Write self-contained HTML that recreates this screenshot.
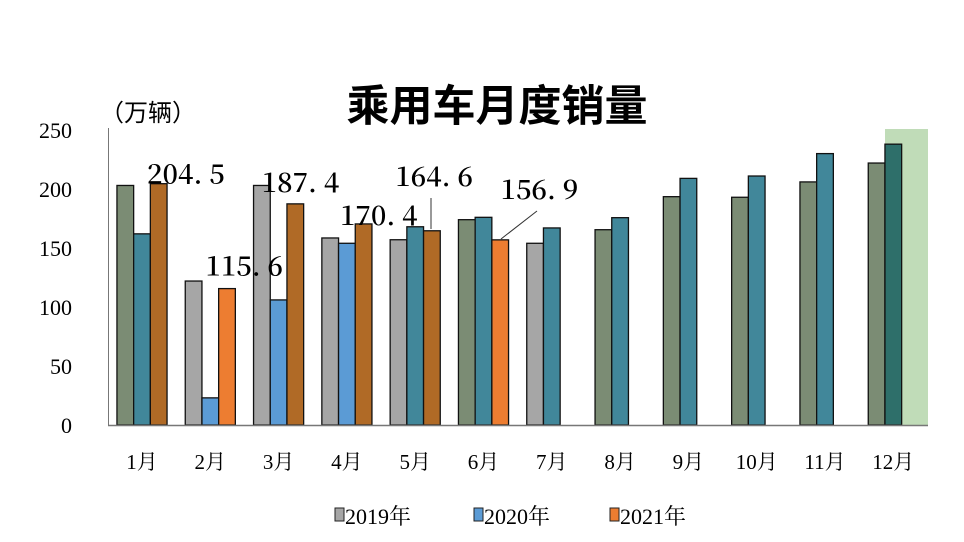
<!DOCTYPE html>
<html><head><meta charset="utf-8">
<style>
html,body{margin:0;padding:0;background:#fff;}
svg{display:block;}
text{font-family:"Liberation Serif","Noto Serif CJK SC",serif;fill:#000;}
</style></head>
<body>
<svg id="chart" width="964" height="542" viewBox="0 0 964 542" xmlns="http://www.w3.org/2000/svg">
<rect x="885" y="129" width="43" height="296" fill="#c0dcb8"/>
<text x="497" y="121" text-anchor="middle" font-size="43" style="font-family:'Noto Sans CJK SC',sans-serif;font-weight:600">乘用车月度销量</text>
<text x="100" y="121" font-size="24" style="font-family:'Noto Sans CJK SC',sans-serif">（万辆）</text>
<g id="yticks"></g>
<g id="bars"></g>
<line x1="108.5" y1="128" x2="108.5" y2="425" stroke="#777" stroke-width="1"/>
<line x1="108" y1="425.5" x2="928" y2="425.5" stroke="#777" stroke-width="1.5"/>
<g id="xlabels"></g>
<g id="vlabels"></g>
<line x1="431" y1="198" x2="431" y2="229" stroke="#333" stroke-width="1"/>
<line x1="537" y1="211" x2="501" y2="239" stroke="#333" stroke-width="1"/>
<g>
<rect x="335" y="508" width="9" height="13" fill="#a6a6a6" stroke="#222"/>
<text x="345" y="524" font-size="22">2019年</text>
<rect x="474" y="508" width="9" height="13" fill="#5b9bd5" stroke="#222"/>
<text x="484" y="524" font-size="22">2020年</text>
<rect x="610" y="508" width="9" height="13" fill="#ed7d31" stroke="#222"/>
<text x="620" y="524" font-size="22">2021年</text>
</g>
</svg>
<script>
const categories = ["1月","2月","3月","4月","5月","6月","7月","8月","9月","10月","11月","12月"];
const sales2019 = [203,122,203,158.5,157,174,154,165.5,193.5,193,206,222];
const sales2020 = [162,23,106,154,168,176,167,175.7,209,211,230,238];
const sales2021 = [204.5,115.6,187.4,170.4,164.6,156.9,null,null,null,null,null,null];
const colors2019 = ["#7b8c74","#a6a6a6","#a6a6a6","#a6a6a6","#a6a6a6","#7b8c74","#a6a6a6","#7b8c74","#7b8c74","#7b8c74","#7b8c74","#7b8c74"];
const colors2020 = ["#41879a","#5b9bd5","#5b9bd5","#5b9bd5","#41879a","#41879a","#41879a","#41879a","#41879a","#41879a","#41879a","#2e6f6a"];
const colors2021 = ["#b06a26","#ed7d31","#b06a26","#b06a26","#b06a26","#ed7d31","","","","","",""];
const yTicks = [0,50,100,150,200,250];
const labelOffsets = [[-20,0],[-30,-13],[-42,-12],[-32,1],[-45,-45],[-8,-41]];

const NS = "http://www.w3.org/2000/svg";
const y0 = 425, yTop = 130, yMax = 250;
function yScale(v){ return y0 - v/yMax*(y0-yTop); }
function xCenter(i){ return 142 + i*68.3; }
const bw = 16.7;
function mk(tag, attrs, parent){ const e=document.createElementNS(NS,tag); for(const k in attrs) e.setAttribute(k,attrs[k]); parent.appendChild(e); return e; }

const yt = document.getElementById('yticks');
yTicks.forEach(t=>{
  const e = mk('text',{x:72,y:yScale(t)+8,'text-anchor':'end','font-size':22},yt);
  
  
  e.textContent = t;
});

const bars = document.getElementById('bars');
const series = [[sales2019,colors2019,'2019'],[sales2020,colors2020,'2020'],[sales2021,colors2021,'2021']];
categories.forEach((c,i)=>{
  series.forEach((s,j)=>{
    const v = s[0][i];
    if(v==null) return;
    const x = xCenter(i) + (j-1)*bw - bw/2;
    const r = mk('rect',{x:x,y:yScale(v),width:bw,height:y0-yScale(v),fill:s[1][i],stroke:'#111','stroke-width':1.3},bars);
    
    
  });
  const t = mk('text',{x:xCenter(i),y:469,'text-anchor':'middle','font-size':21},document.getElementById('xlabels'));
  
  
  t.textContent = c;
});

const vl = document.getElementById('vlabels');
sales2021.forEach((v,i)=>{
  if(v==null) return;
  const x = xCenter(i) + bw*1.5 + labelOffsets[i][0];
  const y = yScale(v) + labelOffsets[i][1];
  const t = mk('text',{x:x,y:y,'font-size':27,style:"font-family:'Noto Serif CJK SC',serif;font-weight:600"},vl);
  
  
  t.textContent = v.toFixed(1).replace('.', '. ');
});
</script>
</body></html>
